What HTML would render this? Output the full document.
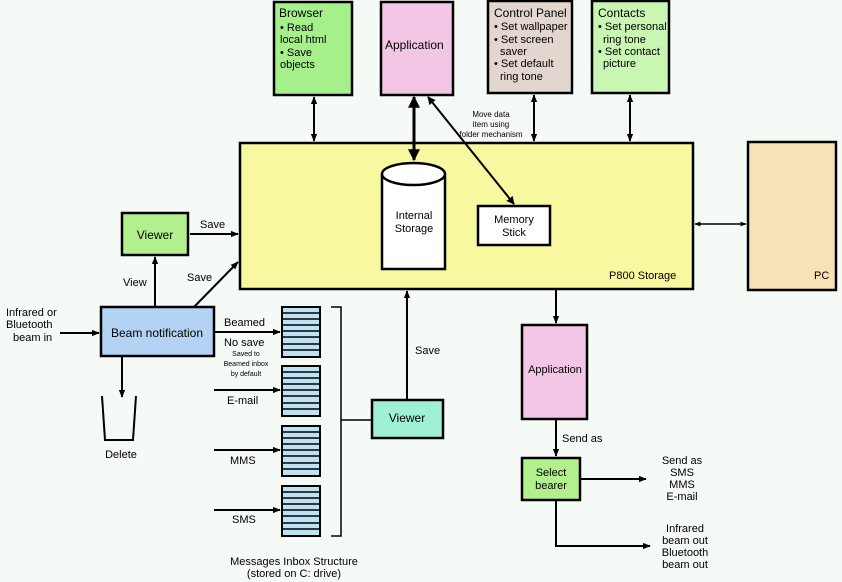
<!DOCTYPE html>
<html><head><meta charset="utf-8"><style>
html,body{margin:0;padding:0;background:#f6faf7;}
svg{display:block}
text{font-family:"Liberation Sans",sans-serif;fill:#000;}
</style></head><body>
<svg width="842" height="582" viewBox="0 0 842 582" xmlns="http://www.w3.org/2000/svg">
<defs>
<marker id="a" viewBox="0 0 10 10" refX="9" refY="5" markerWidth="4" markerHeight="4" orient="auto-start-reverse"><path d="M0,1 L10,5 L0,9 z" fill="#000"/></marker>
<marker id="b" viewBox="0 0 10 10" refX="9" refY="5" markerWidth="4" markerHeight="4" orient="auto-start-reverse"><path d="M0,0 L10,5 L0,10 z" fill="#000"/></marker>
</defs>
<rect width="842" height="582" fill="#f6faf7"/>
<g stroke="#000" stroke-width="2.5">
<rect x="274" y="2" width="78" height="93" fill="#a6f08c"/>
<rect x="381" y="2" width="72" height="93" fill="#f4c6e6"/>
<rect x="488" y="1" width="84" height="92" fill="#e2d6cf"/>
<rect x="592" y="1" width="77" height="92" fill="#caf6b4"/>
<rect x="240" y="143" width="453" height="146" fill="#f8f8a0"/>
<rect x="748" y="142" width="88" height="148" fill="#f6e2b6"/>
<rect x="122" y="213" width="66" height="42" fill="#b2f08e"/>
<rect x="101" y="307" width="113" height="49" fill="#b4d2f4"/>
<rect x="372" y="400" width="71" height="38" fill="#a0f0d8"/>
<rect x="522" y="325" width="65" height="94" fill="#f4c6e6"/>
<rect x="522" y="458" width="58" height="42" fill="#b2f08e"/>
<rect x="478" y="206" width="72" height="39" fill="#fff"/>
<path d="M382,174 L382,269 L445,269 L445,174" fill="#fff"/>
<ellipse cx="413.5" cy="174" rx="31.5" ry="11" fill="#fff"/>
</g>
<!-- inbox stacks -->
<g stroke="#000" stroke-width="2" fill="#bde2f4">
<rect x="282" y="307" width="38" height="50"/>
<rect x="282" y="366" width="38" height="50"/>
<rect x="282" y="426" width="38" height="50"/>
<rect x="282" y="486" width="38" height="50"/>
</g>
<g stroke="#000" stroke-width="1.5">
<path d="M282,313h38M282,319h38M282,325h38M282,331h38M282,337h38M282,344h38M282,350h38"/>
<path d="M282,372h38M282,378h38M282,384h38M282,390h38M282,396h38M282,403h38M282,409h38"/>
<path d="M282,432h38M282,438h38M282,444h38M282,450h38M282,456h38M282,463h38M282,469h38"/>
<path d="M282,492h38M282,498h38M282,504h38M282,510h38M282,516h38M282,523h38M282,529h38"/>
</g>
<!-- bracket -->
<path d="M331,307H341V536H331M341,420H372" stroke="#000" stroke-width="1.5" fill="none"/>
<!-- connectors -->
<g stroke="#000" stroke-width="2" fill="none">
<path d="M314,97V141" marker-start="url(#a)" marker-end="url(#a)"/>
<path d="M534,95V141" marker-start="url(#a)" marker-end="url(#a)"/>
<path d="M630,95V141" marker-start="url(#a)" marker-end="url(#a)"/>
<path d="M695,224H746" stroke-width="1.5" marker-start="url(#a)" marker-end="url(#a)"/>
<path d="M190,234H238" marker-end="url(#a)"/>
<path d="M194,307L238,262" marker-end="url(#a)"/>
<path d="M155,307V257" marker-end="url(#a)"/>
<path d="M60,333H99" marker-end="url(#a)"/>
<path d="M214,332H280" marker-end="url(#a)"/>
<path d="M214,390H280" marker-end="url(#a)"/>
<path d="M214,450H280" marker-end="url(#a)"/>
<path d="M214,510H280" marker-end="url(#a)"/>
<path d="M122,356V397" marker-end="url(#a)"/>
<path d="M407,400V291" marker-end="url(#a)"/>
<path d="M556,289V323" marker-end="url(#a)"/>
<path d="M556,419V456" marker-end="url(#a)"/>
<path d="M580,479H646" marker-end="url(#a)"/>
<path d="M556,500V546H650" marker-end="url(#a)"/>
<path d="M414,97V160" stroke-width="3" marker-start="url(#b)" marker-end="url(#b)"/>
<path d="M428,97L514,204" stroke-width="2" marker-start="url(#b)" marker-end="url(#b)"/>
</g>
<!-- bin -->
<path d="M102,396L105,440H133L136,396" stroke="#000" stroke-width="2" fill="none"/>
<!-- text -->
<g font-size="11">
<text x="279" y="17" font-size="12">Browser</text>
<text x="280" y="31">• Read</text>
<text x="280" y="43">local html</text>
<text x="280" y="56">• Save</text>
<text x="280" y="68">objects</text>
<text x="385" y="49" font-size="12">Application</text>
<text x="494" y="17" font-size="12">Control Panel</text>
<text x="494" y="30">• Set wallpaper</text>
<text x="494" y="43">• Set screen</text>
<text x="500" y="55">saver</text>
<text x="494" y="67">• Set default</text>
<text x="500" y="80">ring tone</text>
<text x="598" y="17" font-size="12">Contacts</text>
<text x="598" y="30">• Set personal</text>
<text x="603" y="43">ring tone</text>
<text x="598" y="55">• Set contact</text>
<text x="603" y="67">picture</text>
<text x="491" y="117" font-size="8" text-anchor="middle">Move data</text>
<text x="491" y="127" font-size="8" text-anchor="middle">item using</text>
<text x="491" y="137" font-size="8" text-anchor="middle">folder mechanism</text>
<text x="414" y="219" text-anchor="middle">Internal</text>
<text x="414" y="232" text-anchor="middle">Storage</text>
<text x="514" y="223" text-anchor="middle">Memory</text>
<text x="514" y="236" text-anchor="middle">Stick</text>
<text x="609" y="279">P800 Storage</text>
<text x="814" y="279">PC</text>
<text x="155" y="239" text-anchor="middle" font-size="12">Viewer</text>
<text x="200" y="228">Save</text>
<text x="187" y="281">Save</text>
<text x="123" y="286">View</text>
<text x="157" y="337" text-anchor="middle" font-size="12">Beam notification</text>
<text x="6" y="316">Infrared or</text>
<text x="6" y="328">Bluetooth</text>
<text x="13" y="341">beam in</text>
<text x="224" y="326">Beamed</text>
<text x="224" y="346">No save</text>
<text x="246" y="356" font-size="7" text-anchor="middle">Saved to</text>
<text x="246" y="366" font-size="7" text-anchor="middle">Beamed inbox</text>
<text x="246" y="376" font-size="7" text-anchor="middle">by default</text>
<text x="227" y="404">E-mail</text>
<text x="230" y="464">MMS</text>
<text x="232" y="523">SMS</text>
<text x="121" y="458" text-anchor="middle">Delete</text>
<text x="294" y="565" text-anchor="middle">Messages Inbox Structure</text>
<text x="294" y="577" text-anchor="middle">(stored on C: drive)</text>
<text x="407" y="422" text-anchor="middle" font-size="12">Viewer</text>
<text x="415" y="354">Save</text>
<text x="555" y="373" text-anchor="middle">Application</text>
<text x="562" y="442">Send as</text>
<text x="551" y="476" text-anchor="middle">Select</text>
<text x="551" y="489" text-anchor="middle">bearer</text>
<text x="682" y="464" text-anchor="middle">Send as</text>
<text x="682" y="476" text-anchor="middle">SMS</text>
<text x="682" y="488" text-anchor="middle">MMS</text>
<text x="682" y="500" text-anchor="middle">E-mail</text>
<text x="685" y="532" text-anchor="middle">Infrared</text>
<text x="685" y="544" text-anchor="middle">beam out</text>
<text x="685" y="556" text-anchor="middle">Bluetooth</text>
<text x="685" y="568" text-anchor="middle">beam out</text>
</g>
</svg>
</body></html>
